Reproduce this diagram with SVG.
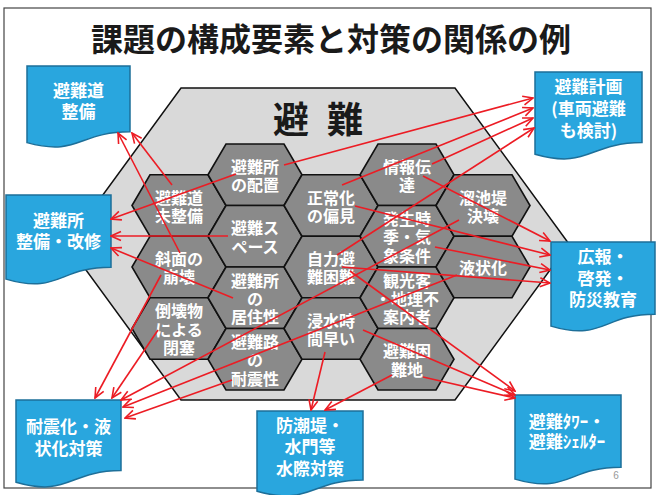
<svg xmlns="http://www.w3.org/2000/svg" xmlns:xlink="http://www.w3.org/1999/xlink" width="657" height="495" viewBox="0 0 657 495">
<style>
text{font-family:"Noto Sans CJK JP","Noto Sans CJK SC",sans-serif;font-weight:bold;text-anchor:middle}
.title{font-size:32px;fill:#1a1a1a}
.big{font-size:36px;fill:#1a1a1a}
.ht{font-size:16px;fill:#ffffff}
.bt{font-size:17px;fill:#ffffff}
.hex{fill:#8a8a8a;stroke:#111;stroke-width:1.6}
.box{fill:#29a6de;stroke:#1d6f99;stroke-width:1.5}
.cn line{stroke:#ec1c24;stroke-width:1.6;marker-end:url(#ah)}
</style>
<defs>
<polygon id="hx" points="0,30.75 18,0 76,0 94,30.75 76,61.5 18,61.5"/>
<marker id="ah" viewBox="-11 -6 12 12" refX="0" refY="0" markerWidth="12" markerHeight="12" markerUnits="userSpaceOnUse" orient="auto">
<path d="M-10,-4.5 L0,0 L-10,4.5" fill="none" stroke="#ec1c24" stroke-width="1.6"/>
</marker>
</defs>
<rect x="0" y="0" width="657" height="495" fill="#ffffff"/>
<rect x="4" y="8" width="647" height="480" fill="none" stroke="#444" stroke-width="1.2"/>
<g id="title"><text class="title" x="331" y="51">課題の構成要素と対策の関係の例</text></g>
<g id="outer">
<polygon points="181,88 455,88 569,244 455,400 181,400 67,244" fill="#d9d9d9" stroke="#111" stroke-width="1.5"/>
<text class="big" x="318" y="133" word-spacing="10">避 難</text>
</g>
<g id="h-A1"><use xlink:href="#hx" class="hex" x="132" y="174.75"/><text class="ht" x="179" y="203.5">避難道<tspan x="179" dy="18.3">未整備</tspan></text></g>
<g id="h-A2"><use xlink:href="#hx" class="hex" x="132" y="236.25"/><text class="ht" x="179" y="265">斜面の<tspan x="179" dy="18.3">崩壊</tspan></text></g>
<g id="h-A3"><use xlink:href="#hx" class="hex" x="132" y="297.75"/><text class="ht" x="179" y="317.2">倒壊物<tspan x="179" dy="18.3">による</tspan><tspan x="179" dy="18.3">閉塞</tspan></text></g>
<g id="h-B1"><use xlink:href="#hx" class="hex" x="208" y="144"/><text class="ht" x="255" y="172.7">避難所<tspan x="255" dy="18.3">の配置</tspan></text></g>
<g id="h-B2"><use xlink:href="#hx" class="hex" x="208" y="205.5"/><text class="ht" x="255" y="234.2">避難ス<tspan x="255" dy="18.3">ペース</tspan></text></g>
<g id="h-B3"><use xlink:href="#hx" class="hex" x="208" y="267"/><text class="ht" x="255" y="286.5">避難所<tspan x="255" dy="18.3">の</tspan><tspan x="255" dy="18.3">居住性</tspan></text></g>
<g id="h-B4"><use xlink:href="#hx" class="hex" x="208" y="328.5"/><text class="ht" x="255" y="348">避難路<tspan x="255" dy="18.3">の</tspan><tspan x="255" dy="18.3">耐震性</tspan></text></g>
<g id="h-C1"><use xlink:href="#hx" class="hex" x="284" y="174.75"/><text class="ht" x="331" y="203.5">正常化<tspan x="331" dy="18.3">の偏見</tspan></text></g>
<g id="h-C2"><use xlink:href="#hx" class="hex" x="284" y="236.25"/><text class="ht" x="331" y="265">自力避<tspan x="331" dy="18.3">難困難</tspan></text></g>
<g id="h-C3"><use xlink:href="#hx" class="hex" x="284" y="297.75"/><text class="ht" x="331" y="326.5">浸水時<tspan x="331" dy="18.3">間早い</tspan></text></g>
<g id="h-D1"><use xlink:href="#hx" class="hex" x="360" y="144"/><text class="ht" x="407" y="172.7">情報伝<tspan x="407" dy="18.3">達</tspan></text></g>
<g id="h-D2"><use xlink:href="#hx" class="hex" x="360" y="205.5"/><text class="ht" x="407" y="225">発生時<tspan x="407" dy="18.3">季・気</tspan><tspan x="407" dy="18.3">象条件</tspan></text></g>
<g id="h-D3"><use xlink:href="#hx" class="hex" x="360" y="267"/><text class="ht" x="407" y="286.5">観光客<tspan x="407" dy="18.3">・地理不</tspan><tspan x="407" dy="18.3">案内者</tspan></text></g>
<g id="h-D4"><use xlink:href="#hx" class="hex" x="360" y="328.5"/><text class="ht" x="407" y="357.2">避難困<tspan x="407" dy="18.3">難地</tspan></text></g>
<g id="h-E1"><use xlink:href="#hx" class="hex" x="436" y="174.75"/><text class="ht" x="483" y="203.5">溜池堤<tspan x="483" dy="18.3">決壊</tspan></text></g>
<g id="h-E2"><use xlink:href="#hx" class="hex" x="436" y="236.25"/><text class="ht" x="483" y="274">液状化</text></g>
<g id="b-road"><path class="box" d="M27,66 H130 V131.8 C78.5,131.8 78.5,156.8 27,142.6 Z"/><text class="bt" x="78.5" y="96.5">避難道<tspan x="78.5" dy="21.5">整備</tspan></text></g>
<g id="b-shelter"><path class="box" d="M6,195 H111 V267.2 C58.5,267.2 58.5,294.7 6,279.1 Z"/><text class="bt" x="58.5" y="226.5">避難所<tspan x="58.5" dy="21.5">整備・改修</tspan></text></g>
<g id="b-quake"><path class="box" d="M16,400 H121 V470.6 C68.5,470.6 68.5,497.5 16,482.2 Z"/><text class="bt" x="68.5" y="433">耐震化・液<tspan x="68.5" dy="21.5">状化対策</tspan></text></g>
<g id="b-seawall"><path class="box" d="M257,411 H363 V480 C310,480 310,506.2 257,491.3 Z"/><text class="bt" x="310" y="431.5">防潮堤・<tspan x="310" dy="21.5">水門等</tspan><tspan x="310" dy="21.5">水際対策</tspan></text></g>
<g id="b-tower"><path class="box" d="M515,395 H621 V467.2 C568,467.2 568,494.7 515,479.1 Z"/><text class="bt" x="567" y="428">避難ﾀﾜｰ・<tspan x="567" dy="20">避難ｼｪﾙﾀｰ</tspan></text></g>
<g id="b-plan"><path class="box" d="M535,72 H642 V142.6 C588.5,142.6 588.5,169.5 535,154.2 Z"/><text class="bt" x="588.5" y="92.5">避難計画<tspan x="588.5" dy="22">(車両避難</tspan><tspan x="588.5" dy="22">も検討)</tspan></text></g>
<g id="b-edu"><path class="box" d="M551,242 H655 V314.2 C603,314.2 603,341.7 551,326.1 Z"/><text class="bt" x="603" y="263">広報・<tspan x="603" dy="21.5">啓発・</tspan><tspan x="603" dy="21.5">防災教育</tspan></text></g>
<g id="page"><text x="616" y="479" style="font-family:'Liberation Sans',sans-serif;font-weight:normal;font-size:10px;fill:#999">6</text></g>
<g id="connectors" class="cn">
<line x1="172" y1="185" x2="132" y2="133"/>
<line x1="180" y1="253" x2="118" y2="133"/>
<line x1="236" y1="174" x2="111" y2="219"/>
<line x1="228" y1="236" x2="111" y2="236"/>
<line x1="233" y1="298" x2="111" y2="248"/>
<line x1="161" y1="275" x2="95" y2="398"/>
<line x1="158" y1="330" x2="112" y2="398"/>
<line x1="459" y1="220" x2="121" y2="400"/>
<line x1="457" y1="275" x2="123" y2="407"/>
<line x1="232" y1="380" x2="125" y2="418"/>
<line x1="325" y1="352" x2="311" y2="410"/>
<line x1="392" y1="375" x2="325" y2="410"/>
<line x1="350" y1="271" x2="515" y2="391"/>
<line x1="363" y1="330" x2="515" y2="395"/>
<line x1="423" y1="377" x2="515" y2="398"/>
<line x1="423" y1="176" x2="550" y2="241"/>
<line x1="355" y1="206" x2="550" y2="255"/>
<line x1="435" y1="247" x2="550" y2="270"/>
<line x1="342" y1="267" x2="550" y2="283"/>
<line x1="284" y1="165" x2="533" y2="98"/>
<line x1="342" y1="185" x2="533" y2="108"/>
<line x1="432" y1="164" x2="533" y2="118"/>
<line x1="337" y1="255" x2="534" y2="128"/>
</g>
</svg>
